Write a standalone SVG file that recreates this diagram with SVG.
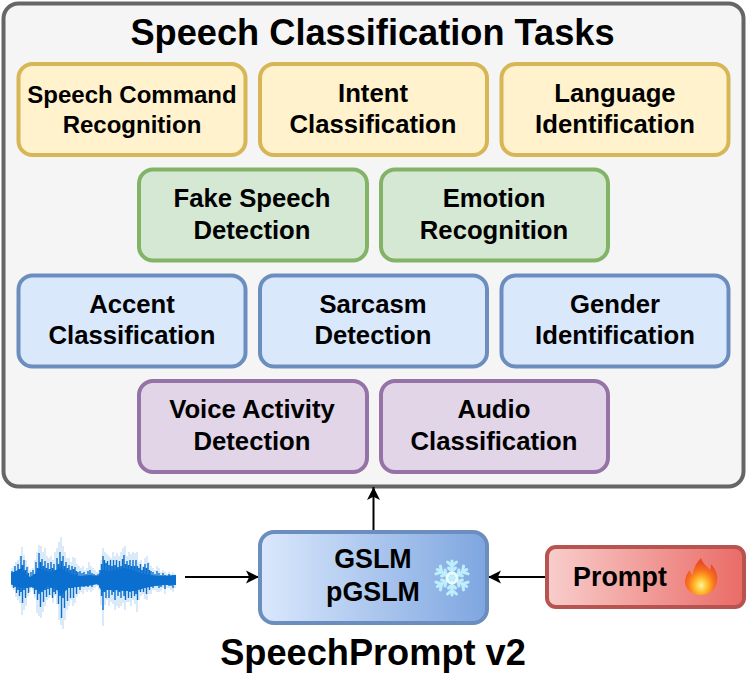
<svg xmlns="http://www.w3.org/2000/svg" width="747" height="680" viewBox="0 0 747 680">
  <style>
    text { font-family: "Liberation Sans", Arial, sans-serif; font-weight: bold; fill: #000; text-anchor: middle; }
    .label { font-size: 25.7px; }
    .small { font-size: 24px; }
    .large { font-size: 26.8px; }
    .heading { font-size: 36.2px; }
    .box { stroke-width: 4; }
    .yellow { fill: #fff2cc; stroke: #d6b656; }
    .green { fill: #d5e8d4; stroke: #82b366; }
    .blue { fill: #dae8fc; stroke: #6c8ebf; }
    .purple { fill: #e1d5e7; stroke: #9673a6; }
    .edge { fill: none; stroke: #000; stroke-width: 2; }
  </style>
  <defs>
    <marker id="arrow" markerUnits="userSpaceOnUse" markerWidth="14" markerHeight="14" refX="13" refY="7" orient="auto">
      <path d="M0 0.5 L13 7 L0 13.5 L3.2 7 Z" fill="#000"/>
    </marker>
    <linearGradient id="modelFill" x1="0" x2="1" y1="0" y2="0">
      <stop offset="0" stop-color="#dae8fc"/>
      <stop offset="1" stop-color="#7ea6e0"/>
    </linearGradient>
    <linearGradient id="promptFill" x1="0" x2="1" y1="0" y2="0">
      <stop offset="0" stop-color="#f8cecc"/>
      <stop offset="1" stop-color="#ea6b66"/>
    </linearGradient>
    <radialGradient id="flame" cx="0.5" cy="0.74" r="0.62">
      <stop offset="0" stop-color="#fff59d"/>
      <stop offset="0.3" stop-color="#ffc02e"/>
      <stop offset="0.65" stop-color="#f9731c"/>
      <stop offset="1" stop-color="#ea4a25"/>
    </radialGradient>
  </defs>

  <g id="tasks-panel">
    <rect x="3.5" y="3.5" width="740" height="483" rx="15" fill="#f5f5f5" stroke="#666" stroke-width="4"/>
    <text class="heading" x="372.500" y="45">Speech Classification Tasks</text>
  </g>

  <g id="speech-command"><rect class="box yellow" x="18.500" y="64" width="227" height="91" rx="14"/><text class="small" x="132" y="103">Speech Command</text><text class="small" x="132" y="133">Recognition</text></g>
  <g id="intent"><rect class="box yellow" x="260" y="64" width="227" height="91" rx="14"/><text class="label" x="373" y="102">Intent</text><text class="label" x="373" y="133">Classification</text></g>
  <g id="language"><rect class="box yellow" x="501.500" y="64" width="227" height="91" rx="14"/><text class="label" x="615" y="102">Language</text><text class="label" x="615" y="133">Identification</text></g>

  <g id="fake-speech"><rect class="box green" x="139" y="169.500" width="228" height="91" rx="14"/><text class="label" x="252" y="207">Fake Speech</text><text class="label" x="252" y="239">Detection</text></g>
  <g id="emotion"><rect class="box green" x="381" y="169.500" width="227" height="91" rx="14"/><text class="label" x="494" y="207">Emotion</text><text class="label" x="494" y="239">Recognition</text></g>

  <g id="accent"><rect class="box blue" x="18.500" y="275.500" width="227" height="91" rx="14"/><text class="label" x="132" y="313">Accent</text><text class="label" x="132" y="344">Classification</text></g>
  <g id="sarcasm"><rect class="box blue" x="260" y="275.500" width="227" height="91" rx="14"/><text class="label" x="373" y="313">Sarcasm</text><text class="label" x="373" y="344">Detection</text></g>
  <g id="gender"><rect class="box blue" x="501.500" y="275.500" width="227" height="91" rx="14"/><text class="label" x="615" y="313">Gender</text><text class="label" x="615" y="344">Identification</text></g>

  <g id="voice-activity"><rect class="box purple" x="139" y="381" width="228" height="91" rx="14"/><text class="label" x="252" y="418">Voice Activity</text><text class="label" x="252" y="450">Detection</text></g>
  <g id="audio"><rect class="box purple" x="381" y="381" width="227" height="91" rx="14"/><text class="label" x="494" y="418">Audio</text><text class="label" x="494" y="450">Classification</text></g>

  <g id="connectors">
    <path class="edge" d="M185 577 H259" marker-end="url(#arrow)"/>
    <path class="edge" d="M373.500 530 V487" marker-end="url(#arrow)"/>
    <path class="edge" d="M545 577 H488" marker-end="url(#arrow)"/>
  </g>

  <g id="waveform">
    <!-- faint outer spikes -->
    <path fill="none" stroke="#0b6fcf" stroke-opacity="0.3" stroke-width="1" d="M12 568V587M14 566V590M16 562V597M18 560V600M20 556V603M22 547V615M24 555V610M26 560V606M28 566V596M30 570V592M33 568V590M35 560V598M37 552V613M39 545V616M41 546V618M43 552V612M45 548V606M47 556V600M49 558V598M51 556V595M53 560V603M55 552V596M57 548V604M59 542V620M61 537V625M63 546V629M65 552V620M67 558V610M69 558V606M71 562V600M73 557V606M75 558V603M77 564V597M79 566V594M81 568V592M83 566V594M85 570V590M87 568V592M89 562V590M91 566V592M93 568V590M95 570V588M97 572V586M99 570V590M101 560V605M103 548V626M105 552V605M107 554V600M109 556V606M111 558V602M113 552V604M115 556V610M117 553V606M119 556V608M121 552V606M123 548V603M125 546V610M127 556V602M129 552V602M131 554V606M133 552V600M135 553V604M137 552V612M139 562V600M141 560V596M143 566V594M145 558V599M147 556V600M149 562V594M151 566V594M153 568V590M155 570V590M157 566V592M159 568V592M161 572V591M163 570V588M165 572V594M167 574V588M169 572V588M171 574V590M173 572V592M175 574V588"/>
    <!-- stronger spikes of uneven length -->
    <path fill="none" stroke="#0b6fcf" stroke-width="1.400" d="M12 571V585M13.500 573V588M15 566V587M16.500 571V593M18 564V590M19.500 569V596M21 556V592M22.500 565V603M24 560V590M25.500 570V598M27 567V588M28.500 573V593M31 572V586M33 570V588M34.500 574V594M36 562V590M37.500 568V600M39 553V594M40.500 562V607M42 559V592M43.500 566V602M45 561V590M46.500 568V597M48 563V589M49.500 569V595M51 562V588M52.500 568V598M54 564V592M55.500 570V594M57 558V590M58.500 564V604M60 552V596M61.500 561V618M63 556V598M64.500 566V608M66 562V590M67.500 568V601M69 565V588M70.500 570V598M72 566V588M73.500 569V598M75 567V586M76.500 571V594M78 572V586M80 571V590M82 573V585M84 572V587M86 574V584M88 571V587M90 570V585M92 573V587M94 574V584M96 575V584M98 574V585M100 570V588M101.500 564V596M103 556V610M104.500 560V592M106 563V598M107.500 561V590M109 565V598M110.500 560V590M112 566V595M113.500 560V592M115 565V600M116.500 560V590M118 567V596M119.500 561V592M121 566V598M122.500 559V590M124 555V596M125.500 564V600M127 561V590M128.500 565V598M130 560V592M131.500 566V598M133 560V590M134.500 566V596M136 560V594M137.500 566V600M139 568V588M140.500 564V592M142 570V586M143.500 567V592M145 564V588M146.500 568V594M148 563V586M149.500 570V590M151 571V586M153 572V588M155 574V586M157 571V586M159 573V588M161 575V587M163 573V585M165 575V589M167 576V584M169 574V586M171 576V586M173 575V588M175 576V585"/>
    <!-- dense core of the signal -->
    <path fill="#0b6fcf" d="M11 573L18 570L22 568L26 574L30 577L35 574L39 568L43 570L50 572L55 571L60 567L65 571L72 574L80 576L90 575L98 576L102 570L108 571L115 570L124 568L132 570L140 573L150 575L160 576L176 575L176 585L165 585L155 586L145 588L135 591L124 591L115 590L106 590L102 592L98 584L88 586L78 587L68 588L62 595L56 589L48 586L40 592L34 587L26 588L18 587L11 584Z"/>
  </g>

  <g id="model">
    <rect x="260" y="532" width="227" height="91" rx="14" fill="url(#modelFill)" stroke="#6c8ebf" stroke-width="4"/>
    <text class="large" x="373" y="568">GSLM</text>
    <text class="large" x="373" y="601">pGSLM</text>
    <g fill="none" stroke-linecap="round">
      <g stroke="#bdeefb" stroke-width="3">
        <path d="M452 578V561M452 566l-4.500-4M452 566l4.500-4M452 571l-3.500-3M452 571l3.500-3"/>
        <path d="M452 578V561M452 566l-4.500-4M452 566l4.500-4M452 571l-3.500-3M452 571l3.500-3" transform="rotate(60 452 578)"/>
        <path d="M452 578V561M452 566l-4.500-4M452 566l4.500-4M452 571l-3.500-3M452 571l3.500-3" transform="rotate(120 452 578)"/>
        <path d="M452 578V561M452 566l-4.500-4M452 566l4.500-4M452 571l-3.500-3M452 571l3.500-3" transform="rotate(180 452 578)"/>
        <path d="M452 578V561M452 566l-4.500-4M452 566l4.500-4M452 571l-3.500-3M452 571l3.500-3" transform="rotate(240 452 578)"/>
        <path d="M452 578V561M452 566l-4.500-4M452 566l4.500-4M452 571l-3.500-3M452 571l3.500-3" transform="rotate(300 452 578)"/>
      </g>
      <circle cx="452" cy="578" r="5" stroke="#e9fbff" stroke-width="3"/>
    </g>
  </g>

  <g id="prompt">
    <rect x="547" y="547" width="197" height="60" rx="9" fill="url(#promptFill)" stroke="#b85450" stroke-width="4"/>
    <text class="large" x="620" y="586">Prompt</text>
    <path d="M701 558C703 564 707 566 710 570C711 568 711 566 711 564C716 570 718 575 717 581C716 590 709 595 701 595C692 595 685 589 685 582C685 577 687 573 690 570C690 572 691 574 693 575C693 569 696 563 701 558Z" fill="url(#flame)"/>
  </g>

  <g id="caption">
    <text class="heading" x="373" y="665">SpeechPrompt v2</text>
  </g>
</svg>
